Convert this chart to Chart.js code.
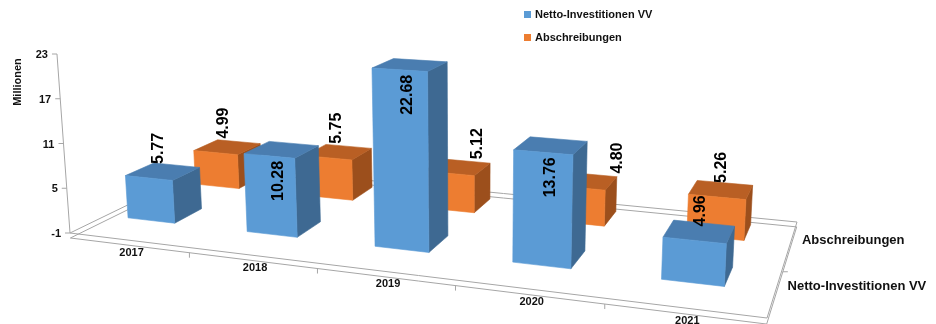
<!DOCTYPE html>
<html>
<head>
<meta charset="utf-8">
<script src="https://cdn.jsdelivr.net/npm/chart.js@4.4.0/dist/chart.umd.min.js"></script>
<style>
  html, body { margin: 0; padding: 0; background: #fff; }
  #chart { display: block; }
</style>
</head>
<body>
<canvas id="chart" width="936" height="324"></canvas>
<script>
const years = ['2017', '2018', '2019', '2020', '2021']
const nettoInvestitionen = [5.77, 10.28, 22.68, 13.76, 4.96]
const abschreibungen = [4.99, 5.75, 5.12, 4.80, 5.26]
const seriesNames = ['Netto-Investitionen VV', 'Abschreibungen']
const yTicks = [-1, 5, 11, 17, 23]
const axisTitle = 'Millionen'

const FONT = "'Liberation Sans', Arial, sans-serif"

// face colours per series: front, top, side
const faces = [
  { front: '#5b9bd5', top: '#4a7db0', side: '#3e6992' },
  { front: '#ed7d31', top: '#b95f24', side: '#9c4f1c' }
]
// depth row of each series on the floor (0 = front edge, 1 = back edge)
const rowDepth = [0.15, 0.63]
const barDepth = 0.19
// vertical lines converge a little towards a point far below
const VX = 470
const VD = 5500

function makeFloor(area) {
  // floor corners: front-left, front-right, back-right, back-left
  const p0 = [area.left, area.bottom]
  const p1 = [area.right, area.bottom + 85]
  const p2 = [area.right + 30, area.bottom - 11]
  const p3 = [area.left + 140, area.bottom - 68]
  const dx1 = p1[0] - p2[0], dx2 = p3[0] - p2[0], dx3 = p0[0] - p1[0] + p2[0] - p3[0]
  const dy1 = p1[1] - p2[1], dy2 = p3[1] - p2[1], dy3 = p0[1] - p1[1] + p2[1] - p3[1]
  const den = dx1 * dy2 - dx2 * dy1
  const g = (dx3 * dy2 - dx2 * dy3) / den
  const h = (dx1 * dy3 - dx3 * dy1) / den
  const a = p1[0] - p0[0] + g * p1[0], b = p3[0] - p0[0] + h * p3[0], c = p0[0]
  const d = p1[1] - p0[1] + g * p1[1], e = p3[1] - p0[1] + h * p3[1], f = p0[1]
  return function (u, v, hPx) {
    const w = g * u + h * v + 1
    const bx = (a * u + b * v + c) / w
    const lift = hPx / w
    return { x: bx + (bx - VX) * lift / VD, y: (d * u + e * v + f) / w - lift }
  }
}

function poly(ctx, pts, fill) {
  ctx.beginPath()
  ctx.moveTo(pts[0].x, pts[0].y)
  for (let i = 1; i < pts.length; i++) ctx.lineTo(pts[i].x, pts[i].y)
  ctx.closePath()
  ctx.fillStyle = fill
  ctx.fill()
  ctx.strokeStyle = fill
  ctx.lineWidth = 0.6
  ctx.stroke()
}

function line(ctx, a, b) {
  ctx.beginPath()
  ctx.moveTo(a.x, a.y)
  ctx.lineTo(b.x, b.y)
  ctx.stroke()
}

const box3d = {
  id: 'box3d',
  beforeDatasetsDraw(chart) {
    const ctx = chart.ctx
    const area = chart.chartArea
    const W = area.right - area.left
    const yScale = chart.scales.y
    const P = makeFloor(area)
    const hOf = (val) => area.bottom - yScale.getPixelForValue(val)

    ctx.save()

    // floor outline (double line for thickness)
    ctx.strokeStyle = '#a6a6a6'
    ctx.lineWidth = 1
    for (const t of [0, -5]) {
      const c = [P(0, 0, t), P(1, 0, t), P(1, 1, t), P(0, 1, t)]
      ctx.beginPath()
      ctx.moveTo(c[0].x, c[0].y)
      for (let i = 1; i < 4; i++) ctx.lineTo(c[i].x, c[i].y)
      ctx.closePath()
      ctx.stroke()
    }

    // value axis
    const axTop = P(0, 0, hOf(yTicks[yTicks.length - 1]))
    line(ctx, P(0, 0, 0), axTop)
    ctx.fillStyle = '#111'
    ctx.font = 'bold 11px ' + FONT
    ctx.textAlign = 'right'
    ctx.textBaseline = 'middle'
    for (const t of yTicks) {
      const p = P(0, 0, hOf(t))
      line(ctx, { x: p.x - 5, y: p.y }, p)
      ctx.fillText(String(t), p.x - 9, p.y + 1)
    }
    ctx.save()
    ctx.translate(axTop.x - 39, axTop.y + 28)
    ctx.rotate(-Math.PI / 2)
    ctx.textAlign = 'center'
    ctx.fillText(axisTitle, 0, 0)
    ctx.restore()

    // category ticks and labels along the front edge
    const xScale = chart.scales.x
    for (let k = 1; k < years.length; k++) {
      const p = P(k / years.length, 0, -5)
      line(ctx, p, { x: p.x, y: p.y + 5 })
    }
    ctx.textAlign = 'center'
    years.forEach((yr, k) => {
      const u = (xScale.getPixelForValue(k) - area.left) / W
      const p = P(u, 0, 0)
      ctx.fillText(yr, p.x + 3, p.y + 13)
    })

    // depth axis labels on the right edge
    ctx.font = 'bold 13px ' + FONT
    ctx.textAlign = 'left'
    seriesNames.forEach((name, i) => {
      const p = P(1, rowDepth[i] + barDepth / 2, 0)
      ctx.fillText(name, p.x + 12, p.y - 4)
    })
    const mid = P(1, (rowDepth[0] + barDepth + rowDepth[1]) / 2, -5)
    line(ctx, mid, { x: mid.x + 5, y: mid.y })

    // bars, back row first
    const labels = []
    const boxes = {}
    for (let i = chart.data.datasets.length - 1; i >= 0; i--) {
      const meta = chart.getDatasetMeta(i)
      const col = faces[i]
      const v0 = rowDepth[i], v1 = v0 + barDepth
      boxes[i] = []
      meta.data.forEach((el, k) => {
        const u0 = (el.x - el.width / 2 - area.left) / W
        const u1 = (el.x + el.width / 2 - area.left) / W
        const hTop = area.bottom - el.y
        const hBot = area.bottom - el.base
        const sideTop = P(u1, v1, hTop)
        poly(ctx, [P(u1, v0, hBot), P(u1, v1, hBot), sideTop, P(u1, v0, hTop)], col.side)
        poly(ctx, [P(u0, v0, hTop), P(u1, v0, hTop), sideTop, P(u0, v1, hTop)], col.top)
        const fl = P(u0, v0, hTop)
        poly(ctx, [P(u0, v0, hBot), P(u1, v0, hBot), P(u1, v0, hTop), fl], col.front)
        const topFront = P((u0 + u1) / 2, v0, hTop)
        const botFront = P((u0 + u1) / 2, v0, hBot)
        const anchor = P((u0 + u1) / 2 + 0.004, v0 + 0.05, hTop)
        boxes[i][k] = { left: fl.x, right: sideTop.x, top: sideTop.y }
        labels.push({
          series: i,
          cat: k,
          text: chart.data.datasets[i].data[k].toFixed(2),
          x: anchor.x,
          top: topFront.y,
          faceH: botFront.y - topFront.y
        })
      })
    }

    // data labels, rotated
    ctx.font = 'bold 16px ' + FONT
    ctx.fillStyle = '#000'
    ctx.textBaseline = 'middle'
    for (const lb of labels) {
      const tw = ctx.measureText(lb.text).width
      ctx.save()
      if (lb.faceH > tw + 20) {
        ctx.translate(lb.x, lb.top + 5)
        ctx.rotate(-Math.PI / 2)
        ctx.textAlign = 'right'
      } else {
        let x = lb.x
        const front = lb.series > 0 ? boxes[0][lb.cat] : null
        // move a back-row label clear of the bar standing in front of it
        if (front && x > front.left - 5 && x < front.right + 10 && lb.top - 14 > front.top) {
          x = front.right + 30
        }
        ctx.translate(x, lb.top - 14)
        ctx.rotate(-Math.PI / 2)
        ctx.textAlign = 'left'
      }
      ctx.fillText(lb.text, 0, 0)
      ctx.restore()
    }

    // legend
    ctx.font = 'bold 11px ' + FONT
    ctx.textAlign = 'left'
    chart.data.datasets.forEach((ds, i) => {
      const ly = 14 + i * 23
      ctx.fillStyle = ds.backgroundColor
      ctx.fillRect(524, ly - 3, 7, 7)
      ctx.fillStyle = '#111'
      ctx.fillText(ds.label, 535, ly + 1)
    })

    ctx.restore()
    return false
  }
}

const data = {
  labels: years,
  datasets: [
    { label: seriesNames[0], data: nettoInvestitionen, backgroundColor: faces[0].front, grouped: false },
    { label: seriesNames[1], data: abschreibungen, backgroundColor: faces[1].front, grouped: false }
  ]
}

new Chart(document.getElementById('chart'), {
  type: 'bar',
  data: data,
  options: {
    responsive: false,
    animation: false,
    devicePixelRatio: 1,
    layout: { padding: { left: 70, right: 169, top: 54, bottom: 91 } },
    datasets: { bar: { barPercentage: 0.4, categoryPercentage: 1.0 } },
    plugins: { legend: { display: false }, tooltip: { enabled: false } },
    scales: {
      x: { type: 'category', display: false },
      y: { type: 'linear', display: false, min: -1, max: 23, ticks: { stepSize: 6 } }
    }
  },
  plugins: [box3d]
})
</script>
</body>
</html>
